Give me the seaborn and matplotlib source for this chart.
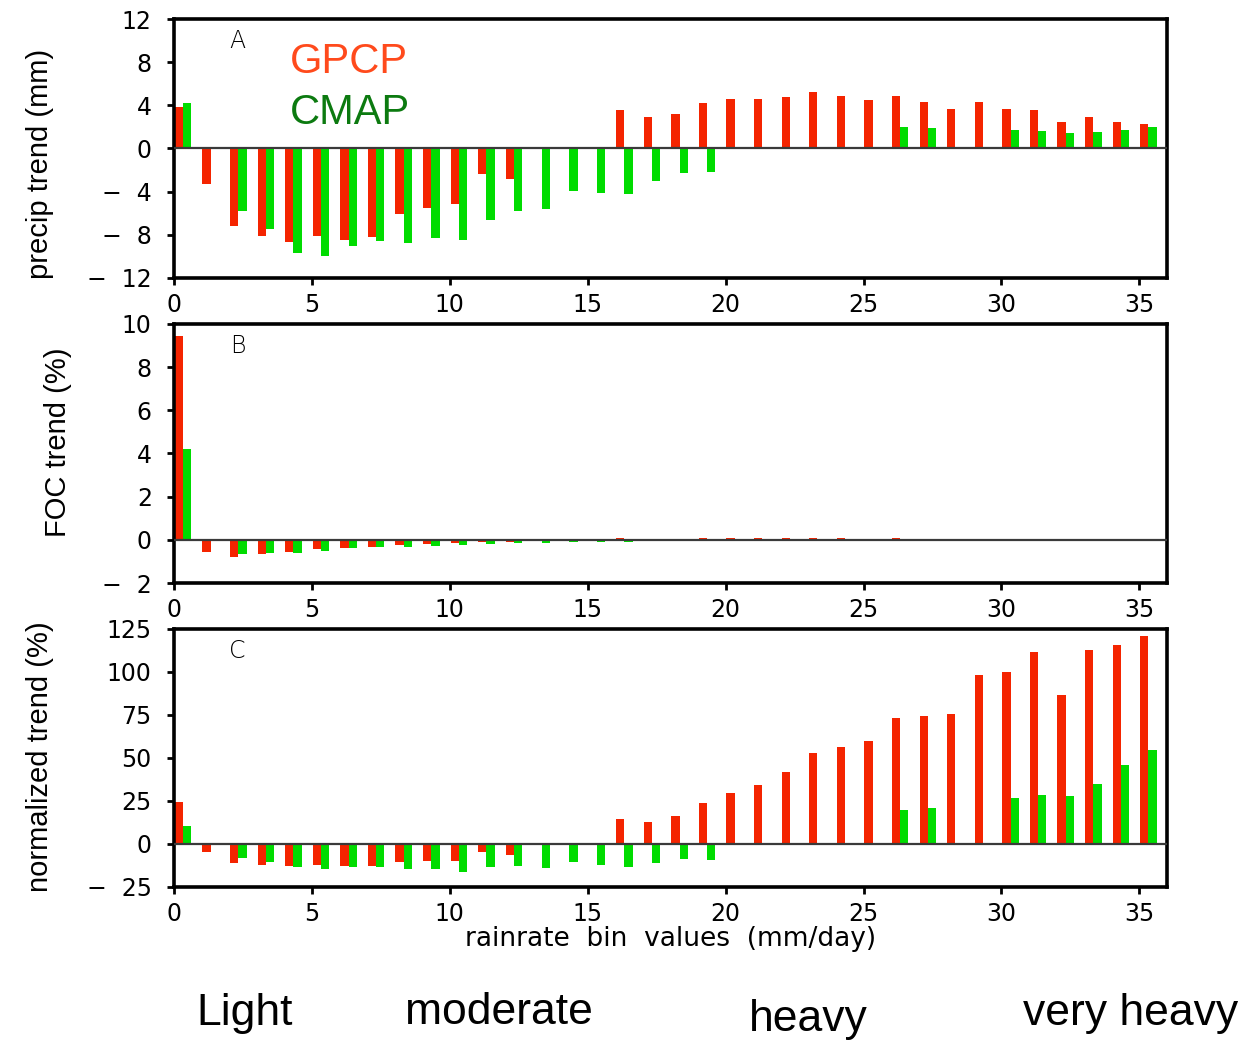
import numpy as np
import pandas as pd
import matplotlib
matplotlib.use("Agg")
import matplotlib.pyplot as plt
import seaborn as sns

# rain-rate bins (mm/day)
bins = np.arange(36)
nan = np.nan

# A: precipitation trend (mm)
gpcp_precip = [3.8, -3.3, -7.2, -8.1, -8.7, -8.1, -8.5, -8.2, -6.1, -5.5,
               -5.1, -2.4, -2.8, nan, nan, nan, 3.6, 2.9, 3.2, 4.2,
               4.6, 4.6, 4.8, 5.2, 4.9, 4.5, 4.9, 4.3, 3.7, 4.3,
               3.7, 3.6, 2.5, 2.9, 2.5, 2.3]
cmap_precip = [4.2, nan, -5.8, -7.5, -9.7, -10.0, -9.0, -8.6, -8.8, -8.3,
               -8.5, -6.6, -5.8, -5.6, -3.9, -4.1, -4.2, -3.0, -2.3, -2.2,
               nan, nan, nan, nan, nan, nan, 2.0, 1.9, nan, nan,
               1.7, 1.6, 1.4, 1.5, 1.7, 2.0]

# B: frequency-of-occurrence trend (%)
gpcp_foc = [9.43, -0.56, -0.79, -0.65, -0.56, -0.42, -0.37, -0.33, -0.23, -0.19,
            -0.14, -0.09, -0.09, nan, nan, nan, 0.08, 0.02, 0.02, 0.07,
            0.07, 0.07, 0.07, 0.07, 0.07, 0.02, 0.07, 0.02, 0.02, 0.02,
            0.02, 0.02, 0.02, 0.02, 0.02, 0.02]
cmap_foc = [4.21, nan, -0.65, -0.60, -0.60, -0.51, -0.37, -0.33, -0.33, -0.28,
            -0.23, -0.19, -0.14, -0.14, -0.09, -0.09, -0.09, -0.05, -0.02, -0.02,
            nan, nan, nan, nan, nan, nan, 0.01, 0.01, nan, nan,
            0.01, 0.01, 0.01, 0.01, 0.01, 0.01]

# C: normalized trend (%)
gpcp_norm = [24.4, -4.8, -11.2, -12.4, -13.0, -12.4, -13.0, -13.0, -10.7, -10.1,
             -10.1, -4.8, -6.6, nan, nan, nan, 14.7, 13.0, 16.5, 24.0,
             29.8, 34.5, 42.1, 53.1, 56.6, 60.1, 73.4, 74.6, 75.8, 98.4,
             100.2, 111.8, 86.8, 113.0, 115.9, 121.1]
cmap_norm = [10.7, nan, -8.3, -10.7, -13.6, -14.7, -13.6, -13.6, -14.7, -14.7,
             -16.5, -13.6, -13.0, -14.1, -10.7, -12.4, -13.6, -11.2, -8.9, -9.5,
             nan, nan, nan, nan, nan, nan, 20.0, 21.1, nan, nan,
             26.9, 28.7, 28.1, 35.1, 46.1, 54.8]

sources = ["GPCP", "CMAP"]
x_ticks = [0, 5, 10, 15, 20, 25, 30, 35]
y_ticks_a = [-12, -8, -4, 0, 4, 8, 12]
y_ticks_b = [-2, 0, 2, 4, 6, 8, 10]
y_ticks_c = [-25, 0, 25, 50, 75, 100, 125]
intensity_labels = ["Light", "moderate", "heavy", "very heavy"]

RED = "#f42400"
GREEN = "#00dc00"
GPCP_TXT = "#ff4a1c"
CMAP_TXT = "#0c7a10"

sns.set_style("ticks")
plt.rcParams["font.family"] = ["DejaVu Sans"]
plt.rcParams["text.color"] = "black"
plt.rcParams["axes.labelcolor"] = "black"
plt.rcParams["axes.unicode_minus"] = True

fig = plt.figure(figsize=(12.49, 10.45), dpi=100)

panels = [
    ("A", gpcp_precip, cmap_precip, y_ticks_a, "precip trend (mm)",
     [0.1393, 0.7340, 0.7950, 0.2478], (-0.135, 0.44)),
    ("B", gpcp_foc, cmap_foc, y_ticks_b, "FOC trend (%)",
     [0.1393, 0.4421, 0.7950, 0.2479], (-0.117, 0.545)),
    ("C", gpcp_norm, cmap_norm, y_ticks_c, "normalized trend (%)",
     [0.1393, 0.1512, 0.7950, 0.2469], (-0.135, 0.505)),
]

sans = ["Liberation Sans", "DejaVu Sans"]

axes = []
for letter, g, c, yt, ylab, rect, lab_xy in panels:
    ax = fig.add_axes(rect)
    df = pd.DataFrame({
        "pos": np.concatenate([bins + 0.33, bins + 0.33]),
        "value": np.concatenate([np.asarray(g, float), np.asarray(c, float)]),
        "source": ["GPCP"] * len(bins) + ["CMAP"] * len(bins),
    }).dropna()
    sns.barplot(data=df, x="pos", y="value", hue="source", hue_order=sources,
                palette={"GPCP": RED, "CMAP": GREEN}, native_scale=True,
                width=0.6, dodge=True, errorbar=None, saturation=1,
                edgecolor="none", linewidth=0, legend=False, orient="x", ax=ax)
    ax.axhline(0, color="#3a3a3a", lw=1.6, zorder=3)
    ax.set_xlim(0, 36)
    ax.set_ylim(yt[0], yt[-1])
    ax.set_xticks(x_ticks)
    ax.set_xticklabels([str(t) for t in x_ticks])
    ax.set_yticks(yt)
    ax.set_yticklabels([str(t).replace("-", "\u2212  ") for t in yt])
    ax.set_xlabel("")
    ax.set_ylabel(ylab, fontsize=21, family=sans, va="center", color="black")
    ax.yaxis.set_label_coords(*lab_xy)
    for s in ax.spines.values():
        s.set_visible(True)
        s.set_linewidth(2.6)
        s.set_color("black")
    ax.tick_params(axis="both", direction="out", length=5, width=2,
                   labelsize=17, colors="black")
    ax.tick_params(axis="y", pad=11)
    ax.tick_params(axis="x", pad=6)
    ax.text(0.064, 0.915, letter, transform=ax.transAxes, fontsize=17,
            ha="center", va="center", color="black", fontweight="light")
    axes.append(ax)

# dataset names in the first panel
axes[0].text(0.176, 0.834, "GPCP", transform=axes[0].transAxes, fontsize=30,
             color=GPCP_TXT, ha="center", va="center", family=sans)
axes[0].text(0.177, 0.637, "CMAP", transform=axes[0].transAxes, fontsize=30,
             color=CMAP_TXT, ha="center", va="center", family=sans)

axes[2].set_xlabel("rainrate  bin  values  (mm/day)", fontsize=19, labelpad=0,
                   color="black")

# rain intensity classes under the axis
cls_x = [245, 499, 808, 1131]
cls_y = [1013, 1013, 1020, 1013]
for name, px, py in zip(intensity_labels, cls_x, cls_y):
    fig.text(px / 1249, 1 - py / 1045, name, fontsize=32, ha="center", va="center",
             family=sans, color="black")

fig.savefig("out.png", dpi=100)
